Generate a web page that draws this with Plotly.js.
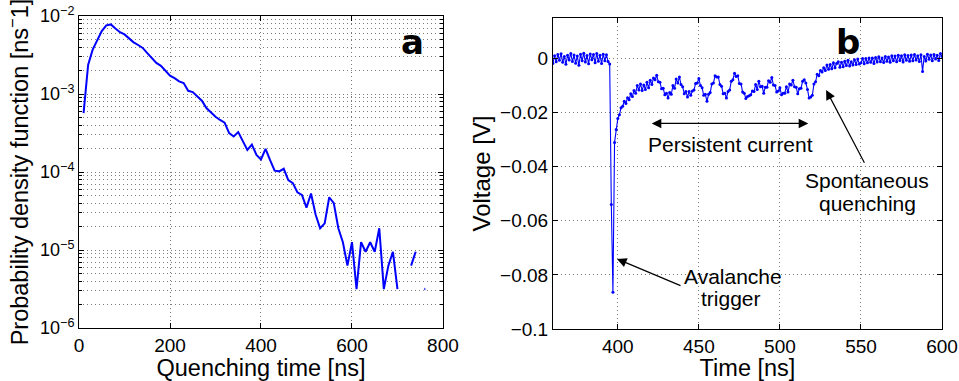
<!DOCTYPE html>
<html>
<head>
<meta charset="utf-8">
<script src="https://cdn.plot.ly/plotly-3.0.1.min.js"></script>
<style>html,body{margin:0;padding:0;background:#fff;} #chart{width:959px;height:381px;}</style>
</head>
<body>
<div id="chart"></div>
<script>
// ---------- Panel a: quenching-time histogram (PDF, ns^-1) ----------
var quenchBinNs = [10,20,30,40,50,60,70,80,90,100,110,120,130,140,150,160,170,180,190,200,
  210,220,230,240,250,260,270,280,290,300,310,320,330,340,350,360,370,380,390,400,
  410,420,430,440,450,460,470,480,490,500,510,520,530,540,550,560,570,580,590,600,
  610,620,630,640,650,660,670,680,690,700,710,720,730,740,750,760];
var quenchPdf = [5.7e-4,2.36e-3,3.7e-3,5.0e-3,6.4e-3,7.6e-3,7.8e-3,6.9e-3,6.2e-3,5.8e-3,
  5.2e-3,4.6e-3,4.25e-3,3.9e-3,3.35e-3,2.9e-3,2.5e-3,2.3e-3,2.0e-3,1.72e-3,
  1.6e-3,1.45e-3,1.38e-3,1.1e-3,1.06e-3,9.3e-4,8.2e-4,6.6e-4,5.8e-4,5.1e-4,
  4.65e-4,4.3e-4,3.15e-4,2.85e-4,3.25e-4,2.45e-4,1.92e-4,2.25e-4,1.66e-4,1.45e-4,
  1.98e-4,1.42e-4,1.04e-4,1.02e-4,1.1e-4,7.9e-5,7.2e-5,5.5e-5,5.1e-5,3.5e-5,
  5.3e-5,2.85e-5,1.9e-5,2.2e-5,4.75e-5,4.0e-5,1.9e-5,1.26e-5,6.3e-6,1.26e-5,
  3.16e-6,1.26e-5,9.5e-6,1.26e-5,9.5e-6,1.9e-5,3.16e-6,6.3e-6,9.5e-6,3.16e-6,
  null,null,6.3e-6,9.5e-6,null,3.16e-6];
var pdfTickVals = [1e-6,1e-5,1e-4,1e-3,1e-2];
var pdfTickText = ['10<sup>\u22126</sup>','10<sup>\u22125</sup>','10<sup>\u22124</sup>','10<sup>\u22123</sup>','10<sup>\u22122</sup>'];

// ---------- Panel b: voltage trace (V), sampled every 1 ns from 360 ns ----------
var traceStartNs = 360;
var traceStepNs = 1;
var voltageV = [
 -0.0018,0.0010,-0.0012,0.0015,-0.0006,0.0018,-0.0014,0.0008,-0.0021,0.0012,
 -0.0005,0.0019,-0.0011,0.0013,-0.0017,0.0009,-0.0025,0.0016,-0.0008,0.0020,
 -0.0013,0.0011,-0.0019,0.0017,-0.0004,0.0015,-0.0016,0.0019,-0.0010,0.0012,
 -0.0018,0.0016,-0.0008,0.0014,-0.0011,-0.0020,-0.0540,-0.0864,-0.0310,-0.0262,
 -0.0222,-0.0208,-0.0182,-0.0176,-0.0158,-0.0166,-0.0145,-0.0152,-0.0130,-0.0140,
 -0.0118,-0.0128,-0.0100,-0.0116,-0.0094,-0.0118,-0.0098,-0.0114,-0.0088,-0.0108,
 -0.0080,-0.0096,-0.0072,-0.0078,-0.0062,-0.0086,-0.0088,-0.0112,-0.0110,-0.0134,
 -0.0128,-0.0146,-0.0126,-0.0132,-0.0100,-0.0110,-0.0076,-0.0090,-0.0068,-0.0096,
 -0.0104,-0.0130,-0.0122,-0.0142,-0.0122,-0.0136,-0.0120,-0.0116,-0.0092,-0.0090,
 -0.0074,-0.0100,-0.0108,-0.0136,-0.0132,-0.0158,-0.0132,-0.0126,-0.0094,-0.0090,
 -0.0064,-0.0068,-0.0068,-0.0096,-0.0102,-0.0130,-0.0128,-0.0146,-0.0122,-0.0116,
 -0.0084,-0.0078,-0.0054,-0.0066,-0.0064,-0.0092,-0.0094,-0.0124,-0.0128,-0.0148,
 -0.0140,-0.0138,-0.0134,-0.0120,-0.0122,-0.0096,-0.0114,-0.0084,-0.0104,-0.0102,
 -0.0128,-0.0106,-0.0106,-0.0082,-0.0088,-0.0070,-0.0098,-0.0100,-0.0124,-0.0120,
 -0.0108,-0.0134,-0.0128,-0.0128,-0.0104,-0.0124,-0.0094,-0.0098,-0.0080,-0.0104,
 -0.0106,-0.0130,-0.0112,-0.0110,-0.0084,-0.0078,-0.0090,-0.0114,-0.0146,-0.0142,
 -0.0136,-0.0094,-0.0086,-0.0058,-0.0064,-0.0044,-0.0050,-0.0034,-0.0044,-0.0024,
 -0.0040,-0.0022,-0.0038,-0.0016,-0.0034,-0.0018,-0.0012,-0.0032,-0.0014,-0.0030,
 -0.0010,-0.0026,-0.0006,-0.0028,-0.0012,-0.0024,-0.0004,-0.0022,-0.0002,-0.0020,
 -0.0016,0.0000,-0.0019,0.0000,-0.0016,0.0002,-0.0014,0.0002,-0.0018,0.0004,
 -0.0013,0.0007,-0.0012,0.0002,-0.0015,0.0008,-0.0010,0.0006,-0.0014,0.0010,
 -0.0008,0.0009,-0.0012,0.0012,-0.0007,0.0010,-0.0013,0.0014,-0.0006,0.0011,
 -0.0010,0.0013,-0.0008,0.0015,-0.0005,0.0010,-0.0011,0.0014,-0.0048,0.0008,
 -0.0009,0.0016,-0.0003,0.0013,-0.0008,0.0015,-0.0002,0.0012,-0.0007,0.0019,
 0.0008];

// annotation anchor points (data coords of panel b)
var persistentArrow = {from: 420, to: 517.5, v: -0.024};

// ---------- build ----------
var blue = '#0000ff';
var isoSizes = quenchPdf.map(function (v, i) {
  var prev = i > 0 ? quenchPdf[i - 1] : null, next = i < quenchPdf.length - 1 ? quenchPdf[i + 1] : null;
  return (v !== null && prev === null && next === null) ? 3 : 0;
});
var minorVals = [];
[-6, -5, -4, -3].forEach(function (e) { for (var k = 2; k <= 9; k++) minorVals.push(k * Math.pow(10, e)); });

var traces = [
  {x: quenchBinNs, y: quenchPdf, xaxis: 'x', yaxis: 'y', type: 'scatter', mode: 'lines+markers',
   connectgaps: false, line: {color: blue, width: 2}, marker: {color: blue, size: isoSizes},
   hoverinfo: 'skip'},
  {x0: traceStartNs, dx: traceStepNs, y: voltageV, xaxis: 'x2', yaxis: 'y2', type: 'scatter',
   mode: 'lines+markers', line: {color: blue, width: 1.1}, marker: {color: blue, size: 3},
   hoverinfo: 'skip'}
];

var gridCol = '#7a7a7a';
var gridDash = '1px,3px';
var axBase = {showline: true, linecolor: '#000', linewidth: 1, mirror: 'ticks', ticks: 'inside',
  ticklen: 5, tickcolor: '#000', showgrid: true, gridcolor: gridCol, griddash: gridDash, gridwidth: 1,
  zeroline: false, automargin: false, tickfont: {size: 19, color: '#000'}};
function ax(extra) { var o = {}; for (var k in axBase) o[k] = axBase[k]; for (var k2 in extra) o[k2] = extra[k2]; return o; }

var textFont = {family: 'Liberation Sans, Arial, sans-serif', size: 21, color: '#000'};
var layout = {
  width: 959, height: 381, margin: {l: 0, r: 0, t: 0, b: 0},
  paper_bgcolor: '#fff', plot_bgcolor: '#fff', showlegend: false,
  font: {family: 'Liberation Sans, Arial, sans-serif', color: '#000', size: 18},
  xaxis: ax({domain: [0.0824, 0.4619], range: [0, 800], tick0: 0, dtick: 200, anchor: 'y',
    title: {text: 'Quenching time [ns]', font: {size: 23.5}, standoff: 3}}),
  yaxis: ax({domain: [0.139, 0.958], type: 'log', range: [-6, -2], anchor: 'x',
    tickmode: 'array', tickvals: pdfTickVals, ticktext: pdfTickText, tickfont: {size: 18, color: '#000'},
    minor: {tickmode: 'array', tickvals: minorVals, showgrid: true, gridcolor: gridCol, griddash: gridDash, gridwidth: 1, ticks: 'inside', ticklen: 3, tickcolor: '#000'},
    title: {text: 'Probability density function [ns<sup>\u2212</sup>1]', font: {size: 23.5}, standoff: 4}}),
  xaxis2: ax({domain: [0.5766, 0.9823], range: [360, 600], tick0: 400, dtick: 50, anchor: 'y2',
    title: {text: 'Time [ns]', font: {size: 23.5}, standoff: 3}}),
  yaxis2: ax({domain: [0.1365, 0.9528], range: [-0.1, 0.015], tick0: 0, dtick: 0.02, anchor: 'x2',
    title: {text: 'Voltage [V]', font: {size: 24}, standoff: 2}}),
  annotations: [
    {xref: 'paper', yref: 'paper', x: 0.4306, y: 0.9475, text: '<b>a</b>', showarrow: false,
     font: {family: 'DejaVu Sans', size: 34, color: '#000'}},
    {xref: 'paper', yref: 'paper', x: 0.8985, y: 0.9475, text: '<b>b</b>', showarrow: false,
     font: {family: 'DejaVu Sans', size: 34, color: '#000'}},
    {xref: 'x2', yref: 'y2', x: persistentArrow.to, y: persistentArrow.v, axref: 'x2', ayref: 'y2',
     ax: persistentArrow.from, ay: persistentArrow.v, text: '', showarrow: true, arrowside: 'end+start',
     arrowhead: 2, startarrowhead: 2, arrowsize: 1.6, startarrowsize: 1.6, arrowwidth: 1.2, arrowcolor: '#000', standoff: 0, startstandoff: 0},
    {xref: 'x2', yref: 'y2', x: 469.3, y: -0.0318, text: 'Persistent current', showarrow: false, font: textFont},
    {xref: 'x2', yref: 'y2', x: 528.5, y: -0.0116, axref: 'x2', ayref: 'y2', ax: 552.6, ay: -0.0391,
     text: '', showarrow: true, arrowhead: 2, arrowsize: 1.6, arrowwidth: 1.2, arrowcolor: '#000', standoff: 0},
    {xref: 'x2', yref: 'y2', x: 554, y: -0.0450, text: 'Spontaneous', showarrow: false, font: textFont},
    {xref: 'x2', yref: 'y2', x: 554, y: -0.0536, text: 'quenching', showarrow: false, font: textFont},
    {xref: 'x2', yref: 'y2', x: 399.5, y: -0.0741, axref: 'x2', ayref: 'y2', ax: 439.6, ay: -0.0842,
     text: '', showarrow: true, arrowhead: 2, arrowsize: 1.6, arrowwidth: 1.2, arrowcolor: '#000', standoff: 0},
    {xref: 'x2', yref: 'y2', x: 471, y: -0.0807, text: 'Avalanche', showarrow: false, font: textFont},
    {xref: 'x2', yref: 'y2', x: 470, y: -0.0889, text: 'trigger', showarrow: false, font: textFont}
  ]
};

Plotly.newPlot('chart', traces, layout, {staticPlot: true, displayModeBar: false});
</script>
</body>
</html>
